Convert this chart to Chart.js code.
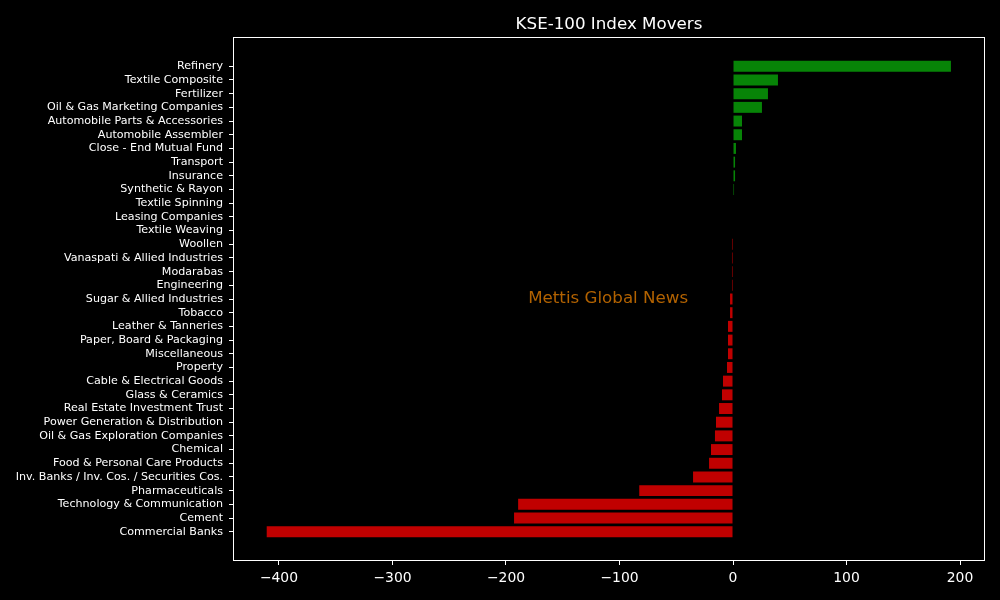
<!DOCTYPE html>
<html>
<head>
<meta charset="utf-8">
<script src="https://cdn.jsdelivr.net/npm/chart.js@4/dist/chart.umd.min.js"></script>
<style>
  html, body { margin: 0; padding: 0; background: #000; }
  #wrap { width: 1000px; height: 600px; }
</style>
</head>
<body>
<div id="wrap"><canvas id="moversChart"></canvas></div>
<script>
// sectors, top to bottom as in the picture
var sectors = [
    'Refinery', 'Textile Composite', 'Fertilizer', 'Oil & Gas Marketing Companies',
    'Automobile Parts & Accessories', 'Automobile Assembler', 'Close - End Mutual Fund',
    'Transport', 'Insurance', 'Synthetic & Rayon', 'Textile Spinning', 'Leasing Companies',
    'Textile Weaving', 'Woollen', 'Vanaspati & Allied Industries', 'Modarabas', 'Engineering',
    'Sugar & Allied Industries', 'Tobacco', 'Leather & Tanneries', 'Paper, Board & Packaging',
    'Miscellaneous', 'Property', 'Cable & Electrical Goods', 'Glass & Ceramics',
    'Real Estate Investment Trust', 'Power Generation & Distribution',
    'Oil & Gas Exploration Companies', 'Chemical', 'Food & Personal Care Products',
    'Inv. Banks / Inv. Cos. / Securities Cos.', 'Pharmaceuticals',
    'Technology & Communication', 'Cement', 'Commercial Banks'
];

// index points contributed by each sector
var points = [
    192.0, 39.6, 30.8, 25.5,
    7.9, 7.9, 2.6,
    1.8, 1.8, 0.9, 0, 0,
    0, -0.9, -0.9, -0.9, -0.9,
    -2.6, -2.6, -4.4, -4.4,
    -4.4, -5.3, -8.8, -9.7,
    -12.3, -15.0,
    -15.9, -19.4, -21.1,
    -35.2, -82.6,
    -189.3, -192.9, -410.8
];

var xTicks = [-400, -300, -200, -100, 0, 100, 200];

var upColor = '#078407';
var downColor = '#c00000';
var fontFamily = '"DejaVu Sans", sans-serif';

// frame on all four sides, title over the plot area, watermark
var framePlugin = {
    id: 'frame',
    afterDraw: function (chart) {
        var ctx = chart.ctx;
        var a = chart.chartArea;
        ctx.save();
        ctx.strokeStyle = '#ffffff';
        ctx.lineWidth = 1;
        ctx.strokeRect(Math.round(a.left) + 0.5, Math.round(a.top) + 0.5,
            Math.round(a.right - a.left) - 1, Math.round(a.bottom - a.top) - 1);

        ctx.fillStyle = '#ffffff';
        ctx.font = '16.7px ' + fontFamily;
        ctx.textAlign = 'center';
        ctx.textBaseline = 'alphabetic';
        ctx.fillText('KSE-100 Index Movers', (a.left + a.right) / 2, 29);

        var x = chart.scales.x.getPixelForValue(-110);
        var y = chart.scales.y.getPixelForValue(16.95);
        ctx.fillStyle = '#b26200';
        ctx.textBaseline = 'middle';
        ctx.fillText('Mettis Global News', x, y);
        ctx.restore();
    }
};

var ctxEl = document.getElementById('moversChart').getContext('2d');
var chart = new Chart(ctxEl, {
    type: 'bar',
    data: {
        datasets: [{
            data: points.map(function (v, i) { return { x: v, y: i }; }),
            backgroundColor: points.map(function (v) { return v >= 0 ? upColor : downColor; }),
            borderWidth: 0,
            barPercentage: 0.8,
            categoryPercentage: 1.0
        }]
    },
    options: {
        indexAxis: 'y',
        responsive: true,
        maintainAspectRatio: false,
        animation: false,
        layout: { padding: { left: 0, right: 15, top: 37, bottom: 0 } },
        plugins: {
            legend: { display: false },
            tooltip: { enabled: false },
            title: { display: false }
        },
        scales: {
            x: {
                type: 'linear',
                min: -440.5,
                max: 222,
                afterBuildTicks: function (axis) {
                    axis.ticks = xTicks.map(function (v) { return { value: v }; });
                },
                afterFit: function (axis) { axis.height = 39; },
                grid: { drawOnChartArea: false, drawTicks: true, tickLength: 4, color: '#ffffff' },
                border: { display: false },
                ticks: {
                    color: '#ffffff',
                    padding: 5,
                    maxRotation: 0,
                    font: { family: fontFamily, size: 13.9 },
                    callback: function (v) { return v < 0 ? '\u2212' + Math.abs(v) : String(v); }
                }
            },
            y: {
                type: 'linear',
                reverse: true,
                offset: false,
                min: -2.14,
                max: 36.14,
                afterBuildTicks: function (axis) {
                    axis.ticks = sectors.map(function (s, i) { return { value: i }; });
                },
                afterFit: function (axis) { axis.width = 233; },
                grid: { offset: false, drawOnChartArea: false, drawTicks: true, tickLength: 4, color: '#ffffff' },
                border: { display: false },
                ticks: {
                    color: '#ffffff',
                    autoSkip: false,
                    padding: 6,
                    font: { family: fontFamily, size: 11.1 },
                    callback: function (v) { return sectors[v]; }
                }
            }
        }
    },
    plugins: [framePlugin]
});
</script>
</body>
</html>
